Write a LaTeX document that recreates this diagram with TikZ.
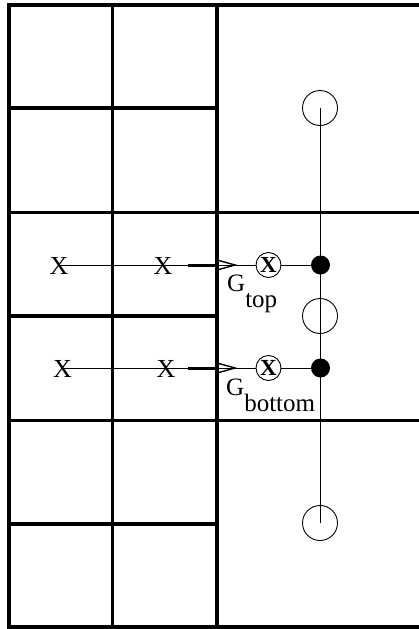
\documentclass[tikz,border=0pt]{standalone}
\usepackage{fontspec}
\setmainfont{Liberation Serif}
\usetikzlibrary{backgrounds}
\tikzset{
  gridline/.style={line width=3.5pt, line cap=rect},
  thinline/.style={line width=0.8pt},
  xmark/.style={inner sep=0pt, font=\fontsize{26}{26}\selectfont},
  crossx/.style={circle, draw, line width=0.9pt, fill=white, minimum size=25pt, inner sep=0pt, font=\fontsize{23}{23}\selectfont\bfseries},
  dotnode/.style={circle, fill=black, minimum size=19pt, inner sep=0pt},
  ring/.style={circle, draw, line width=0.9pt, minimum size=35pt, inner sep=0pt},
  glabel/.style={inner sep=0pt, anchor=base west, font=\fontsize{25}{25}\selectfont},
  shaft/.style={line width=3pt},
  barb/.style={line width=1.4pt, line join=miter},
}
\begin{document}
\begin{tikzpicture}[x=1pt, y=-1pt]
\useasboundingbox (0,0) rectangle (419,629);
% grid
\draw[gridline] (9,5) -- (425,5);
\draw[gridline] (9,212.5) -- (425,212.5);
\draw[gridline] (9,420.5) -- (425,420.5);
\draw[gridline] (9,627) -- (425,627);
\draw[gridline] (9,108) -- (217,108);
\draw[gridline] (9,316) -- (217,316);
\draw[gridline] (9,524) -- (217,524);
\draw[gridline] (9,5) -- (9,627);
\draw[gridline] (112.5,5) -- (112.5,627);
\draw[gridline] (217,5) -- (217,627);
% rings
\node[ring] (r1) at (320,108) {};
\node[ring] (r2) at (320,316) {};
\node[ring] (r3) at (320,523) {};
% row 1
\node[xmark] (a1) at (59,265.5) {X};
\node[xmark] (a2) at (163,265.5) {X};
\node[crossx] (c1) at (268.5,265) {X};
\node[dotnode] (d1) at (320.5,265) {};
\coordinate (s1) at (188,265);
\coordinate (e1) at (217,265);
\coordinate (t1) at (235,265);
\coordinate (u1) at (217,260);
\coordinate (l1) at (217,270);
% row 2
\node[xmark] (a3) at (62.5,368.5) {X};
\node[xmark] (a4) at (166,368.5) {X};
\node[crossx] (c2) at (268.5,368) {X};
\node[dotnode] (d2) at (320.5,368) {};
\coordinate (s2) at (188,368);
\coordinate (e2) at (217,368);
\coordinate (t2) at (235,368);
\coordinate (u2) at (217,363);
\coordinate (l2) at (217,373);
% labels
\node[glabel] (g1) at (227,291) {G\raisebox{-16pt}{top}};
\node[glabel] (g2) at (226,395) {G\raisebox{-16pt}{bottom}};
\begin{scope}[on background layer]
\draw[thinline] (r1.center) -- (r3.center);
\draw[thinline] (a1.center |- d1.center) -- (d1.center);
\draw[thinline] (a3.center |- d2.center) -- (d2.center);
\end{scope}
% arrows
\draw[shaft] (s1) -- (e1);
\draw[barb] (u1) -- (t1) -- (l1);
\draw[shaft] (s2) -- (e2);
\draw[barb] (u2) -- (t2) -- (l2);
\end{tikzpicture}
\end{document}
